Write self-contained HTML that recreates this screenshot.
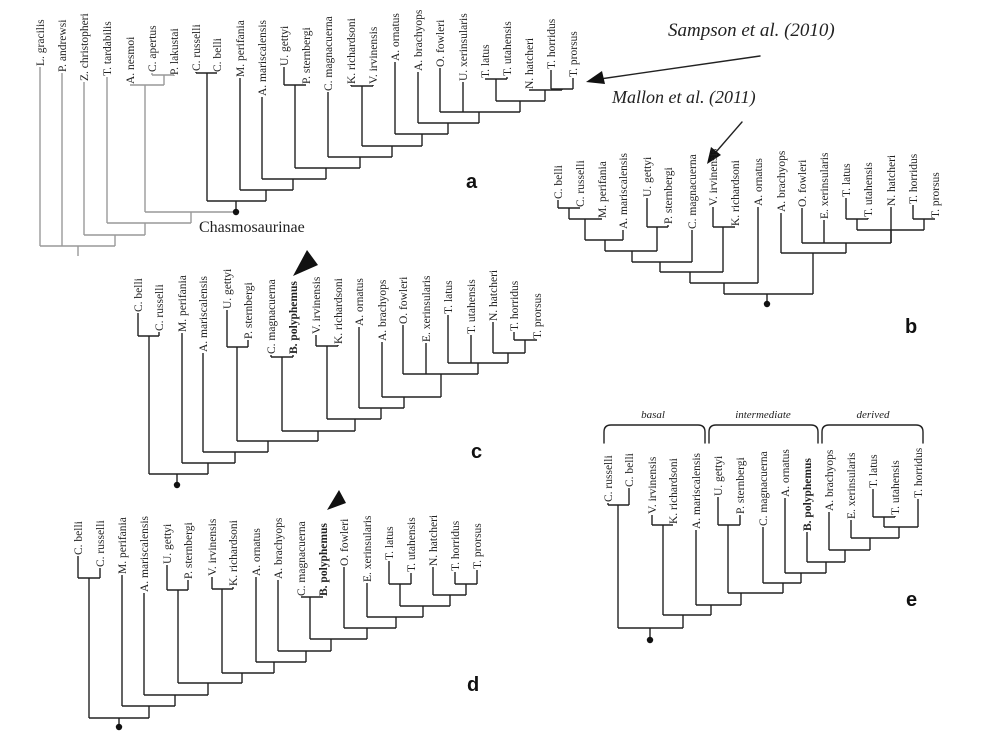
<!DOCTYPE html>
<html><head><meta charset="utf-8">
<style>
html,body{margin:0;padding:0;background:#fff;}
svg{display:block;}
text{font-family:"Liberation Serif",serif;}
text.lt{font-family:"Liberation Sans",sans-serif;font-weight:bold;font-size:20px;}
</style></head>
<body>
<svg id="s" width="1000" height="735" viewBox="0 0 1000 735" xmlns="http://www.w3.org/2000/svg">
<g fill="none" stroke="#222" stroke-width="1.4" stroke-linecap="round">
<path d="M604,443 L604,432 Q604,425 611,425 L698,425 Q705,425 705,432 L705,443"/>
<path d="M709,443 L709,432 Q709,425 716,425 L811,425 Q818,425 818,432 L818,443"/>
<path d="M822,443 L822,432 Q822,425 829,425 L916,425 Q923,425 923,432 L923,443"/>
<line x1="760" y1="56" x2="600" y2="79"/>
<line x1="742" y1="122" x2="716" y2="152"/>
</g>
<g fill="#111">
<polygon points="586,82 602,71 605,84"/>
<polygon points="707,164 711,147 721,155"/>
<polygon points="293,276 307,250 318,265"/>
<polygon points="327,510 339,490 346,503"/>
</g>
<g font-style="italic" fill="#222">
<text x="668" y="36" font-size="19">Sampson et al. (2010)</text>
<text x="612" y="103" font-size="18">Mallon et al. (2011)</text>
<text x="653" y="418" font-size="11" text-anchor="middle">basal</text>
<text x="763" y="418" font-size="11" text-anchor="middle">intermediate</text>
<text x="873" y="418" font-size="11" text-anchor="middle">derived</text>
</g>
<text x="199" y="232" font-size="16" fill="#222">Chasmosaurinae</text>
<g fill="#111">
<text class="lt" x="466" y="188">a</text><text class="lt" x="905" y="333">b</text><text class="lt" x="471" y="458">c</text><text class="lt" x="467" y="691">d</text><text class="lt" x="906" y="606">e</text>
</g>
<g id="trees"></g>
</svg>
<script>
function T(x,top,name,b){return {x:x,top:top,name:name,b:b};}
function N(x,y,ch,c){return {x:x,y:y,ch:ch,c:c};}
var out=[];
function ln(x1,y1,x2,y2,c){out.push('<line x1="'+x1+'" y1="'+y1+'" x2="'+x2+'" y2="'+y2+'" stroke="'+c+'" stroke-width="1.4"/>');}
function dot(x,y){out.push('<circle cx="'+x+'" cy="'+y+'" r="3.2" fill="#111"/>');}
var K='#222',G='#999';
var chas;
function draw(n,col){
  if(n===chas){col=K;}
  var c=n.c||col, mn=1e9,mx=-1e9;
  n.ch.forEach(function(ch){
    if(ch.ch){ln(ch.x,ch.y,ch.x,n.y,(ch===chas)?K:c);draw(ch,col);}
    else{
      ln(ch.x,ch.top,ch.x,n.y,c);
      out.push('<text transform="translate('+(ch.x+4)+','+(ch.top-1)+') rotate(-90)" font-size="11.5"'+(ch.b?' font-weight="bold"':'')+' fill="#222">'+ch.name+'</text>');
    }
    mn=Math.min(mn,ch.x);mx=Math.max(mx,ch.x);
  });
  ln(mn,n.y,mx,n.y,c);
}
// a
var hp=N(562,89,[T(551,70,'T. horridus'),T(573,78,'T. prorsus')]);
var nh=N(545,90,[T(529,90,'N. hatcheri'),hp]);
var tt=N(496,79,[T(485,79,'T. latus'),T(507,77,'T. utahensis')]);
var n1=N(520,101,[tt,nh]);
var n2=N(479,112,[T(440,68,'O. fowleri'),T(463,82,'U. xerinsularis'),n1]);
var n3=N(448,123,[T(418,72,'A. brachyops'),n2]);
var n4=N(422,134,[T(395,62,'A. ornatus'),n3]);
var kv=N(362,86,[T(351,85,'K. richardsoni'),T(373,85,'V. irvinensis')]);
var n5=N(392,146,[kv,n4]);
var n6=N(360,157,[T(328,92,'C. magnacuerna'),n5]);
var up=N(295,85,[T(284,67,'U. gettyi'),T(306,85,'P. sternbergi')]);
var n7=N(326,168,[up,n6]);
var n8=N(293,179,[T(262,97,'A. mariscalensis'),n7]);
var n9=N(266,190,[T(240,78,'M. perifania'),n8]);
var rb=N(207,73,[T(196,72,'C. russelli'),T(217,73,'C. belli')]);
chas=N(236,201,[rb,n9],K);
var al=N(164,75,[T(152,73,'C. apertus'),T(174,76,'P. lakustai')]);
var ne=N(145,85,[T(130,85,'A. nesmoi'),al]);
var g1=N(191,212,[ne,chas]);
var g2=N(145,223,[T(107,77,'T. tardabilis'),g1]);
var g3=N(115,235,[T(84,82,'Z. christopheri'),g2]);
var g4=N(78,246,[T(40,67,'L. gracilis'),T(62,73,'P. andrewsi'),g3]);
draw(g4,G); ln(78,246,78,256,G); dot(236,212);
// b
var b1=N(569,208,[T(558,200,'C. belli'),T(580,208,'C. russelli')]);
var b2=N(585,219,[b1,T(602,219,'M. perifania')]);
var b3=N(605,240,[b2,T(623,230,'A. mariscalensis')]);
var bup=N(657,227,[T(647,198,'U. gettyi'),T(668,225,'P. sternbergi')]);
var b4=N(632,251,[b3,bup]);
var b5=N(660,262,[b4,T(692,230,'C. magnacuerna')]);
var bvk=N(723,227,[T(713,207,'V. irvinensis'),T(735,227,'K. richardsoni')]);
var b6=N(690,272,[b5,bvk]);
var b7=N(724,283,[b6,T(758,207,'A. ornatus')]);
var btt=N(857,219,[T(846,198,'T. latus'),T(868,218,'T. utahensis')]);
var bhp=N(924,219,[T(913,205,'T. horridus'),T(935,219,'T. prorsus')]);
var bx=N(891,230,[btt,bhp]);
var b8=N(846,243,[T(802,208,'O. fowleri'),T(824,220,'E. xerinsularis'),T(891,207,'N. hatcheri'),bx]);
var b9=N(813,253,[T(781,213,'A. brachyops'),b8]);
var broot=N(767,294,[b7,b9]);
draw(broot,K); ln(767,294,767,304,K); dot(767,304);
// c
var c1=N(149,336,[T(138,313,'C. belli'),T(159,332,'C. russelli')]);
var chp=N(525,340,[T(514,332,'T. horridus'),T(537,340,'T. prorsus')]);
var c2=N(508,353,[T(493,322,'N. hatcheri'),chp]);
var c3=N(478,363,[T(448,315,'T. latus'),T(471,335,'T. utahensis'),c2]);
var c4=N(441,374,[T(403,325,'O. fowleri'),T(426,343,'E. xerinsularis'),c3]);
var c5=N(404,397,[T(382,342,'A. brachyops'),c4]);
var c6=N(381,408,[T(359,327,'A. ornatus'),c5]);
var cvk=N(327,346,[T(316,335,'V. irvinensis'),T(338,345,'K. richardsoni')]);
var c7=N(355,419,[cvk,c6]);
var cmb=N(282,357,[T(271,355,'C. magnacuerna'),T(293,355,'B. polyphemus',1)]);
var c8=N(318,431,[cmb,c7]);
var cup=N(237,347,[T(227,310,'U. gettyi'),T(248,340,'P. sternbergi')]);
var c9=N(268,441,[cup,c8]);
var c10=N(235,452,[T(203,353,'A. mariscalensis'),c9]);
var c11=N(208,463,[T(182,333,'M. perifania'),c10]);
var croot=N(177,474,[c1,c11]);
draw(croot,K); ln(177,474,177,485,K); dot(177,485);
// d
var d1=N(89,578,[T(78,556,'C. belli'),T(100,568,'C. russelli')]);
var dhp=N(466,584,[T(455,572,'T. horridus'),T(477,570,'T. prorsus')]);
var dn=N(450,595,[T(433,567,'N. hatcheri'),dhp]);
var dtt=N(400,584,[T(389,561,'T. latus'),T(411,573,'T. utahensis')]);
var d2=N(423,606,[dtt,dn]);
var d3=N(396,617,[T(367,583,'E. xerinsularis'),d2]);
var d4=N(367,628,[T(344,567,'O. fowleri'),d3]);
var dcb=N(310,597,[T(301,597,'C. magnacuerna'),T(323,597,'B. polyphemus',1)]);
var d5=N(331,639,[dcb,d4]);
var d6=N(306,651,[T(278,580,'A. brachyops'),d5]);
var d7=N(274,662,[T(256,577,'A. ornatus'),d6]);
var dvk=N(222,589,[T(212,577,'V. irvinensis'),T(233,587,'K. richardsoni')]);
var d8=N(242,673,[dvk,d7]);
var dup=N(178,590,[T(167,565,'U. gettyi'),T(188,580,'P. sternbergi')]);
var d9=N(208,683,[dup,d8]);
var d10=N(175,695,[T(144,593,'A. mariscalensis'),d9]);
var d11=N(149,706,[T(122,575,'M. perifania'),d10]);
var droot=N(119,718,[d1,d11]);
draw(droot,K); ln(119,718,119,727,K); dot(119,727);
// e
var e1=N(618,505,[T(608,503,'C. russelli'),T(629,488,'C. belli')]);
var evk=N(663,525,[T(652,515,'V. irvinensis'),T(673,525,'K. richardsoni')]);
var ett=N(884,517,[T(873,489,'T. latus'),T(895,516,'T. utahensis')]);
var e2=N(899,527,[ett,T(918,499,'T. horridus')]);
var e3=N(870,538,[T(851,520,'E. xerinsularis'),e2]);
var e4=N(845,550,[T(829,512,'A. brachyops'),e3]);
var e5=N(826,562,[T(807,532,'B. polyphemus',1),e4]);
var e6=N(801,573,[T(785,498,'A. ornatus'),e5]);
var e7=N(783,583,[T(763,527,'C. magnacuerna'),e6]);
var eup=N(728,525,[T(718,497,'U. gettyi'),T(740,515,'P. sternbergi')]);
var e8=N(741,593,[eup,e7]);
var e9=N(711,605,[T(696,530,'A. mariscalensis'),e8]);
var e10=N(683,615,[evk,e9]);
var eroot=N(650,628,[e1,e10]);
draw(eroot,K); ln(650,628,650,640,K); dot(650,640);
document.getElementById('trees').innerHTML=out.join('');
</script>
</body></html>
